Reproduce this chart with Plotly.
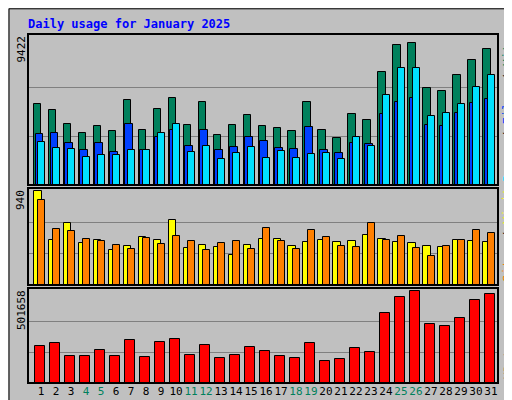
import plotly.graph_objects as go

days = list(range(1, 32))
weekend = [4, 5, 11, 12, 18, 19, 25, 26]

hits = [5180, 4800, 3930, 3370, 3810, 3440, 5490, 3560, 4870, 5610, 3870, 5360, 3190, 3870, 4490, 3810,
        3690, 3500, 5360, 3560, 3000, 4560, 4180, 7290, 9030, 9150, 6230, 6050, 7040, 8040, 8720]
files = [3250, 3370, 2690, 2260, 2690, 2130, 3930, 2260, 3060, 3560, 2500, 3560, 2260, 2440, 3060, 2820,
         2380, 2320, 3750, 2260, 2070, 2690, 2630, 4560, 5320, 5610, 3870, 3810, 4620, 5240, 5550]
pages = [2750, 2380, 2320, 1820, 1950, 1950, 2260, 2260, 3370, 3930, 2130, 2500, 1640, 2070, 2440, 1760,
         2190, 1760, 2010, 2070, 1700, 3060, 2500, 5800, 7540, 7540, 4430, 4620, 5180, 6300, 7040]
visits = [940, 447, 620, 417, 447, 346, 386, 478, 447, 651, 366, 397, 376, 295, 397, 458,
          458, 386, 427, 447, 427, 437, 498, 458, 427, 417, 386, 376, 447, 437, 427]
sites = [848, 560, 539, 458, 437, 397, 356, 468, 407, 488, 437, 346, 417, 437, 356, 569,
         437, 356, 549, 478, 386, 376, 620, 447, 488, 366, 285, 386, 447, 549, 519]
kbytes = [198800, 215200, 149600, 149600, 176900, 149600, 231600, 144100, 220700, 237100, 155000,
          204300, 138600, 155000, 193300, 171500, 149600, 138600, 215200, 122200, 133200, 187900,
          166000, 379400, 467000, 501658, 319200, 308300, 352000, 450500, 483400]

max_hits = 9422
max_visits = 940
max_kb = 501658

fig = go.Figure()
edge = dict(color="black", width=1)

def bar(y, color, off, w, ax):
    fig.add_trace(go.Bar(x=days, y=y, marker=dict(color=color, line=edge), offset=off, width=w,
                         xaxis="x" + ax, yaxis="y" + ax, hoverinfo="y"))

bar(hits, "#00805C", -0.5, 0.49, "")
bar(files, "#0040FF", -0.37, 0.49, "")
bar(pages, "#00E0FF", -0.23, 0.49, "")
bar(visits, "#FFFF00", -0.5, 0.53, "2")
bar(sites, "#FF8000", -0.23, 0.49, "2")
bar(kbytes, "#FF0000", -0.43, 0.67, "3")

xd = [20 / 512, 490 / 512]
doms = [[1 - 177 / 400, 1 - 26 / 400], [1 - 277 / 400, 1 - 180 / 400], [1 - 375 / 400, 1 - 280 / 400]]
maxes = [max_hits, max_visits, max_kb]
mono = "DejaVu Sans Mono"
tickfont = dict(family=mono, size=11, color="black")
ticktext = [f"<span style='color:{'#00805C' if d in weekend else 'black'}'>{d}</span>" for d in days]

lay = dict(barmode="overlay", width=512, height=400, margin=dict(l=0, r=0, t=0, b=0),
           paper_bgcolor="#C0C0C0", plot_bgcolor="#C0C0C0", showlegend=False, bargap=0)
for i, (d, m) in enumerate(zip(doms, maxes)):
    s = "" if i == 0 else str(i + 1)
    lay["xaxis" + s] = dict(domain=xd, range=[0.13, 31.47], anchor="y" + s, showgrid=False,
                           zeroline=False, tickvals=days if i == 2 else [], ticktext=ticktext,
                           tickfont=tickfont, ticklen=0, tickangle=0, showline=False)
    lay["yaxis" + s] = dict(domain=d, range=[0, m * 1.03], anchor="x" + s, tickvals=[m / 3, 2 * m / 3],
                           showticklabels=False, gridcolor="#808080", gridwidth=1, zeroline=False)
fig.update_layout(**lay)

shapes = [
    dict(type="rect", xref="paper", yref="paper", x0=0.002, x1=0.984, y0=0.017, y1=0.998,
         line=dict(color="black", width=1)),
    dict(type="rect", xref="paper", yref="paper", x0=0.986, x1=1, y0=0, y1=1,
         fillcolor="#808080", line=dict(width=0), layer="below"),
    dict(type="rect", xref="paper", yref="paper", x0=0, x1=1, y0=0, y1=0.013,
         fillcolor="#808080", line=dict(width=0), layer="below"),
]
for d in doms:
    shapes.append(dict(type="rect", xref="paper", yref="paper", x0=xd[0], x1=xd[1], y0=d[0], y1=d[1],
                       line=dict(color="black", width=2)))
fig.update_layout(shapes=shapes)

ann = [dict(text="Daily usage for January 2025", x=18 / 512, y=1 - 7 / 400, xref="paper", yref="paper",
            xanchor="left", yanchor="top", showarrow=False,
            font=dict(family=mono, size=12, color="#0000FF", weight="bold"))]
labels = ["9422", "940", "501658"]
rights = [[("Pages", "#00E0FF"), (" / ", "#000000"), ("Files", "#0040FF"), (" / ", "#000000"), ("Hits", "#00805C")],
          [("Sites", "#FF8000"), (" / ", "#000000"), ("Visits", "#FFFF00")],
          [("KBytes", "#FF0000")]]
cw = 7.2
for d, lab, r in zip(doms, labels, rights):
    ann.append(dict(text=lab, x=13 / 512, y=d[1], xref="paper", yref="paper", xanchor="center",
                    yanchor="top", textangle=-90, showarrow=False, font=tickfont))
    pos = 2
    for txt, col in r:
        ann.append(dict(text=txt.replace(" ", "&nbsp;"), x=500 / 512, y=d[0], xref="paper", yref="paper",
                        xanchor="center", yanchor="bottom", yshift=pos, textangle=-90, showarrow=False,
                        borderpad=0, font=dict(family=mono, size=12, color=col)))
        pos += len(txt) * cw
fig.update_layout(annotations=ann)

fig.write_html("out.html")
